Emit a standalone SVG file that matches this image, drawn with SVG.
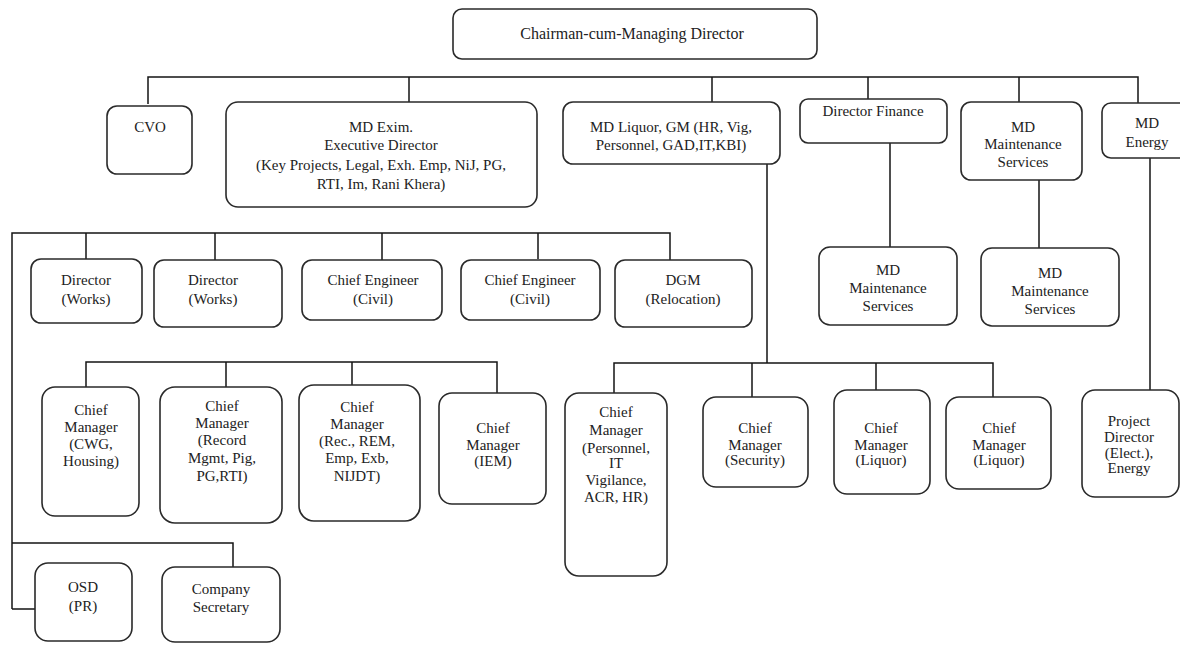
<svg xmlns="http://www.w3.org/2000/svg" width="1180" height="647" viewBox="0 0 1180 647">
<style>
.bx{fill:#fff;stroke:#2a2a2a;stroke-width:1.6}
.ln{stroke:#151515;stroke-width:1.5;fill:none}
text{font-family:"Liberation Serif","Times New Roman",serif;font-size:15px;fill:#222;text-anchor:middle;dominant-baseline:central}
</style>
<rect width="1180" height="647" fill="#fff"/>
<g id="connectors">
<path class="ln" d="M148 104V77H1138V103M409 77V102M712 77V102M868 77V99M1019 77V102"/>
<path class="ln" d="M12 609V233H670V260M86 233V259M215 233V260M382 233V260M538 233V259M12 609H35"/>
<path class="ln" d="M890 143V247M1039 180V248M1150 158V390"/>
<path class="ln" d="M86 387V362H497V393M226 362V387M352 362V385"/>
<path class="ln" d="M767 164V363M614 393V363H993V397M752 363V397M876 363V390"/>
<path class="ln" d="M12 543H233V567"/>
</g>
<g id="chairman"><rect class="bx" x="453" y="9" width="364" height="50" rx="9"/><text x="632" y="33" style="font-size:16px">Chairman-cum-Managing Director</text></g>
<g id="cvo"><rect class="bx" x="107" y="106" width="85" height="68" rx="10"/><text x="150" y="127">CVO</text></g>
<g id="md-exim"><rect class="bx" x="226" y="102" width="311" height="105" rx="12"/>
<text x="381" y="127">MD Exim.</text><text x="381" y="145">Executive Director</text><text x="381" y="165">(Key Projects, Legal, Exh. Emp, NiJ, PG,</text><text x="381" y="184">RTI, Im, Rani Khera)</text></g>
<g id="md-liquor"><rect class="bx" x="563" y="102" width="217" height="62" rx="10"/>
<text x="671" y="127">MD Liquor, GM (HR, Vig,</text><text x="671" y="145">Personnel, GAD,IT,KBI)</text></g>
<g id="director-finance"><rect class="bx" x="800" y="99" width="147" height="44" rx="8"/><text x="873" y="111">Director Finance</text></g>
<g id="md-ms-top"><rect class="bx" x="961" y="102" width="121" height="78" rx="10"/>
<text x="1023" y="127">MD</text><text x="1023" y="144">Maintenance</text><text x="1023" y="162">Services</text></g>
<g id="md-energy"><rect class="bx" x="1102" y="103" width="95" height="55" rx="9"/>
<text x="1147" y="123">MD</text><text x="1147" y="142">Energy</text></g>
<g id="director-works-1"><rect class="bx" x="31" y="259" width="111" height="64" rx="10"/><text x="86" y="280">Director</text><text x="86" y="299">(Works)</text></g>
<g id="director-works-2"><rect class="bx" x="154" y="260" width="128" height="67" rx="10"/><text x="213" y="280">Director</text><text x="213" y="299">(Works)</text></g>
<g id="chief-engineer-1"><rect class="bx" x="302" y="260" width="140" height="60" rx="10"/><text x="373" y="280">Chief Engineer</text><text x="373" y="299">(Civil)</text></g>
<g id="chief-engineer-2"><rect class="bx" x="461" y="260" width="139" height="60" rx="10"/><text x="530" y="280">Chief Engineer</text><text x="530" y="299">(Civil)</text></g>
<g id="dgm"><rect class="bx" x="615" y="260" width="137" height="67" rx="10"/><text x="683" y="280">DGM</text><text x="683" y="299">(Relocation)</text></g>
<g id="md-ms-1"><rect class="bx" x="819" y="247" width="138" height="78" rx="11"/><text x="888" y="270">MD</text><text x="888" y="288">Maintenance</text><text x="888" y="306">Services</text></g>
<g id="md-ms-2"><rect class="bx" x="981" y="248" width="138" height="78" rx="11"/><text x="1050" y="273">MD</text><text x="1050" y="291">Maintenance</text><text x="1050" y="309">Services</text></g>
<g id="cm-cwg"><rect class="bx" x="42" y="387" width="97" height="129" rx="13"/><text x="91" y="410">Chief</text><text x="91" y="427">Manager</text><text x="91" y="444">(CWG,</text><text x="91" y="461">Housing)</text></g>
<g id="cm-record"><rect class="bx" x="160" y="387" width="122" height="136" rx="15"/><text x="222" y="406">Chief</text><text x="222" y="423">Manager</text><text x="222" y="440">(Record</text><text x="222" y="458">Mgmt, Pig,</text><text x="222" y="476">PG,RTI)</text></g>
<g id="cm-rec"><rect class="bx" x="299" y="385" width="121" height="136" rx="15"/><text x="357" y="407">Chief</text><text x="357" y="424">Manager</text><text x="357" y="441">(Rec., REM,</text><text x="357" y="458">Emp, Exb,</text><text x="357" y="476">NIJDT)</text></g>
<g id="cm-iem"><rect class="bx" x="439" y="393" width="107" height="111" rx="13"/><text x="493" y="428">Chief</text><text x="493" y="445">Manager</text><text x="493" y="461">(IEM)</text></g>
<g id="cm-personnel"><rect class="bx" x="565" y="393" width="102" height="183" rx="14"/><text x="616" y="412">Chief</text><text x="616" y="430">Manager</text><text x="616" y="448">(Personnel,</text><text x="616" y="463">IT</text><text x="616" y="480">Vigilance,</text><text x="616" y="497">ACR, HR)</text></g>
<g id="cm-security"><rect class="bx" x="703" y="397" width="105" height="90" rx="13"/><text x="755" y="428">Chief</text><text x="755" y="445">Manager</text><text x="755" y="460">(Security)</text></g>
<g id="cm-liquor-1"><rect class="bx" x="834" y="390" width="96" height="104" rx="13"/><text x="881" y="428">Chief</text><text x="881" y="445">Manager</text><text x="881" y="460">(Liquor)</text></g>
<g id="cm-liquor-2"><rect class="bx" x="946" y="397" width="105" height="92" rx="13"/><text x="999" y="428">Chief</text><text x="999" y="445">Manager</text><text x="999" y="460">(Liquor)</text></g>
<g id="project-director"><rect class="bx" x="1082" y="390" width="97" height="107" rx="13"/><text x="1129" y="421">Project</text><text x="1129" y="437">Director</text><text x="1129" y="453">(Elect.),</text><text x="1129" y="468">Energy</text></g>
<g id="osd"><rect class="bx" x="35" y="563" width="97" height="78" rx="13"/><text x="83" y="587">OSD</text><text x="83" y="606">(PR)</text></g>
<g id="company-secretary"><rect class="bx" x="162" y="567" width="118" height="75" rx="13"/><text x="221" y="589">Company</text><text x="221" y="607">Secretary</text></g>
</svg>
